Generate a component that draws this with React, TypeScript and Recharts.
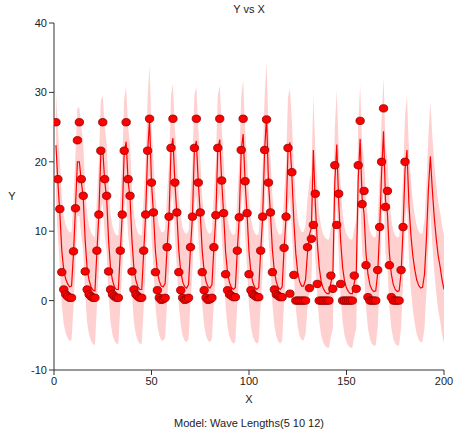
import React from 'react';
import { ComposedChart, Area, Line, Scatter, XAxis, YAxis } from 'recharts';

// observed Y at X = 1..180 (one row per month, 12 per cycle)
const observedY = [
  25.7, 17.5, 13.2, 4.1, 1.6, 0.9, 0.6, 0.4, 0.4, 7.1, 13.3, 23.1,
  25.7, 17.5, 15.1, 4.2, 1.6, 0.9, 0.6, 0.4, 0.4, 7.2, 12.4, 21.6,
  25.7, 17.5, 15.1, 4.2, 1.6, 0.9, 0.6, 0.4, 0.4, 7.2, 12.4, 21.6,
  25.7, 17.5, 15.1, 4.2, 1.6, 0.9, 0.6, 0.4, 0.4, 7.2, 12.4, 21.6,
  26.2, 17.0, 12.7, 4.1, 1.5, 0.4, 0.1, 0.2, 0.4, 7.7, 12.1, 22.0,
  26.2, 17.0, 12.7, 4.1, 1.5, 0.4, 0.1, 0.2, 0.4, 7.7, 12.1, 22.0,
  26.2, 17.0, 12.7, 4.1, 1.5, 0.4, 0.1, 0.2, 0.4, 7.7, 12.3, 22.0,
  26.2, 17.3, 12.6, 3.8, 1.5, 0.9, 0.7, 0.5, 0.5, 7.2, 12.0, 21.7,
  26.2, 17.2, 12.6, 3.8, 1.5, 0.9, 0.7, 0.5, 0.5, 7.2, 12.1, 21.7,
  26.1, 17.0, 12.7, 4.1, 1.6, 0.9, 0.7, 0.5, 0.5, 7.6, 12.1, 22.0,
  1.0, 18.5, 3.7, 0.0, 0.0, 0.0, 0.0, 0.0, 0.0, 7.7, 1.8, 8.9,
  10.9, 15.4, 2.4, 0.0, 0.0, 0.0, 0.0, 0.0, 0.0, 3.6, 1.7, 19.5,
  10.9, 15.4, 2.4, 0.0, 0.0, 0.0, 0.0, 0.0, 0.0, 3.6, 1.7, 19.5,
  25.9, 13.9, 15.8, 5.1, 0.5, 0.0, 0.0, 0.0, 0.0, 4.4, 10.6, 20.0,
  27.7, 13.5, 15.8, 5.1, 0.5, 0.0, 0.0, 0.0, 0.0, 4.4, 10.6, 20.0,
];

// model fit at X = 1..200
const fittedY = [
  22.4, 17.0, 12.6, 7.2, 4.4, 3.1, 2.4, 2.0, 2.1, 6.8, 13.3, 20.0,
  20.0, 17.2, 14.8, 8.6, 4.6, 2.9, 2.0, 1.5, 1.4, 7.0, 12.4, 21.0,
  21.8, 17.2, 14.8, 8.6, 4.6, 2.9, 2.0, 1.6, 1.6, 7.0, 12.4, 21.4,
  22.9, 17.2, 14.8, 8.6, 4.6, 2.9, 2.0, 1.6, 1.6, 7.0, 12.4, 21.4,
  26.0, 17.0, 12.6, 7.2, 4.2, 2.8, 2.1, 2.0, 2.5, 7.6, 12.1, 21.8,
  23.4, 17.0, 12.6, 7.2, 4.2, 2.7, 2.0, 1.8, 2.3, 7.6, 12.1, 21.8,
  23.0, 17.0, 12.6, 7.2, 4.2, 2.7, 2.0, 1.8, 2.3, 7.6, 12.2, 21.8,
  23.2, 17.2, 12.5, 7.0, 4.0, 2.6, 1.9, 1.6, 1.9, 7.2, 12.0, 21.6,
  24.0, 17.1, 12.5, 7.0, 4.0, 2.6, 1.9, 1.6, 1.9, 7.2, 12.0, 21.6,
  26.5, 17.0, 12.6, 7.3, 4.2, 2.7, 1.9, 1.6, 2.0, 7.5, 12.0, 21.5,
  22.8, 18.0, 11.5, 6.8, 4.0, 2.7, 2.1, 2.1, 3.0, 6.9, 9.5, 10.5,
  21.7, 14.0, 8.5, 4.8, 2.8, 1.8, 1.3, 1.0, 1.0, 2.6, 3.8, 17.0,
  22.5, 14.2, 8.6, 4.8, 2.8, 1.8, 1.3, 1.0, 1.0, 2.6, 3.8, 17.5,
  23.3, 14.8, 12.5, 6.8, 3.8, 2.3, 1.6, 1.3, 1.4, 4.0, 10.2, 18.5,
  24.4, 14.5, 12.5, 6.8, 3.8, 2.3, 1.6, 1.3, 1.4, 4.0, 10.2, 18.8,
  21.7, 14.0, 9.5, 6.5, 4.5, 3.0, 2.2, 1.8, 1.9, 3.8, 9.0, 16.0,
  20.8, 16.0, 12.0, 9.0, 6.5, 4.9, 3.0, 1.6,
];

// half width of the pink prediction band
const bandHalfWidth = 7.8;

const xTicks = [0, 50, 100, 150, 200];
const yTicks = [-10, 0, 10, 20, 30, 40];

const fitRows = fittedY.map((fit, i) => ({
  x: i + 1,
  fit,
  band: [fit - bandHalfWidth, fit + bandHalfWidth],
}));
const pointRows = observedY.map((y, i) => ({ x: i + 1, y }));

const font = '"Liberation Sans", Arial, sans-serif';

const Dot = (props: any) => (
  <ellipse cx={props.cx} cy={props.cy} rx={4.2} ry={3.7} fill='#ff0000' stroke='#8b0000' strokeWidth={0.8} />
);

const label = (text: string, x: number, y: number) => (
  <div
    style={{
      position: 'absolute',
      left: x - 150,
      top: y,
      width: 300,
      textAlign: 'center',
      fontSize: 11,
      color: '#222',
      fontFamily: font,
    }}
  >
    {text}
  </div>
);

export default function App() {
  return (
    <div style={{ position: 'absolute', left: 0, top: 0, width: 454, height: 437, background: '#fff', fontFamily: font }}>
      <ComposedChart width={454} height={437} data={fitRows} margin={{ top: 23, right: 10, bottom: 37, left: 0 }}>
        <XAxis
          type='number'
          dataKey='x'
          domain={[0, 200]}
          ticks={xTicks}
          height={30}
          tickSize={5}
          stroke='#333'
          tick={{ fill: '#222', fontSize: 11 }}
          allowDataOverflow
        />
        <YAxis
          type='number'
          domain={[-10, 40]}
          ticks={yTicks}
          width={54}
          tickSize={5}
          stroke='#333'
          tick={{ fill: '#222', fontSize: 11 }}
          allowDataOverflow
        />
        <Area dataKey='band' type='linear' fill='#ffd0d0' fillOpacity={1} stroke='none' isAnimationActive={false} />
        <Line dataKey='fit' type='linear' stroke='#ff0000' strokeWidth={1.2} dot={false} isAnimationActive={false} />
        <Scatter data={pointRows} dataKey='y' shape={Dot} isAnimationActive={false} />
      </ComposedChart>
      {label('Y vs X', 249, 3)}
      {label('Y', 12, 190)}
      {label('X', 249, 393)}
      {label('Model: Wave Lengths(5 10 12)', 249, 417)}
    </div>
  );
}
